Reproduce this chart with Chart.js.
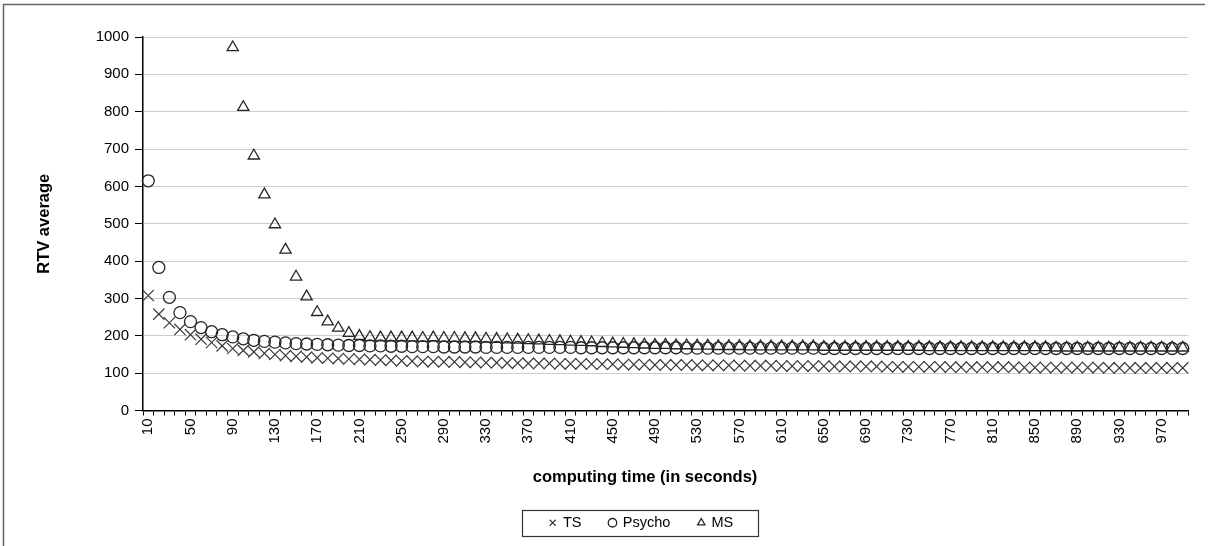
<!DOCTYPE html>
<html><head><meta charset="utf-8">
<script src="https://cdn.jsdelivr.net/npm/chart.js@4/dist/chart.umd.min.js"></script>
<style>html,body{margin:0;padding:0;background:#fff;overflow:hidden}#wrap{position:relative;width:1209px;height:546px}</style>
</head><body><div id="wrap"><canvas id="c" width="1209" height="546"></canvas></div>
<script>
const categories = [10,20,30,40,50,60,70,80,90,100,110,120,130,140,150,160,170,180,190,200,210,220,230,240,250,260,270,280,290,300,310,320,330,340,350,360,370,380,390,400,410,420,430,440,450,460,470,480,490,500,510,520,530,540,550,560,570,580,590,600,610,620,630,640,650,660,670,680,690,700,710,720,730,740,750,760,770,780,790,800,810,820,830,840,850,860,870,880,890,900,910,920,930,940,950,960,970,980,990];
const xTickLabels = [10,50,90,130,170,210,250,290,330,370,410,450,490,530,570,610,650,690,730,770,810,850,890,930,970];
const yTicks = [0,100,200,300,400,500,600,700,800,900,1000];
const tsValues = [308,258,235,217,203,191,182,173,166,161,157,153,150,147,145,143,141,140,139,138,137,136,135,134,133,132,131,131,130,130,129,129,128,128,127,127,126,126,126,125,125,125,124,124,124,123,123,123,122,122,122,122,121,121,121,121,120,120,120,120,119,119,119,119,119,118,118,118,118,118,117,117,117,117,117,117,116,116,116,116,116,116,116,115,115,115,115,115,115,115,115,114,114,114,114,114,114,114,114];
const psychoValues = [615,383,303,262,238,222,211,203,197,192,188,185,183,181,179,178,177,176,175,174,174,173,173,172,172,171,171,171,170,170,170,170,169,169,169,169,169,169,169,169,169,168,168,168,168,168,168,168,168,168,168,167,167,167,167,167,167,167,167,167,167,167,167,167,166,166,166,166,166,166,166,166,166,166,166,166,166,166,166,166,166,166,166,166,166,166,166,166,166,166,166,166,166,166,166,166,166,166,166];
const msValues = [null,null,null,null,null,null,null,null,972,812,682,578,498,430,358,305,263,238,221,207,199,196,195,195,195,195,194,195,194,194,193,193,192,191,190,189,188,187,186,185,184,183,182,180,179,178,177,176,175,175,174,174,173,173,172,172,172,171,171,171,171,171,171,171,170,170,170,170,170,170,170,170,170,170,169,169,169,169,169,169,169,169,169,169,169,169,168,168,168,168,168,168,168,168,168,168,168,168,168];
const seriesNames = ['TS','Psycho','MS'];
const xTitle = 'computing time (in seconds)';
const yTitle = 'RTV average';

const FONT = '"Liberation Sans", Arial, sans-serif';
const legendShift = 30;

const extras = {
  id: 'extras',
  afterLayout(chart) {
    const lg = chart.legend;
    if (lg) { lg.left += legendShift; lg.right += legendShift; }
  },
  afterDraw(chart) {
    const ctx = chart.ctx;
    ctx.save();
    ctx.strokeStyle = '#666';
    ctx.lineWidth = 1.5;
    ctx.beginPath();
    ctx.moveTo(3.5, 546); ctx.lineTo(3.5, 4.5); ctx.lineTo(1205, 4.5);
    ctx.stroke();
    ctx.fillStyle = '#000';
    ctx.font = 'bold 16.5px ' + FONT;
    ctx.textAlign = 'center';
    ctx.textBaseline = 'middle';
    ctx.fillText(xTitle, 645, 477);
    const hb = chart.legend && chart.legend.legendHitBoxes;
    if (hb && hb.length) {
      const l = Math.min(...hb.map(h => h.left));
      const r = Math.max(...hb.map(h => h.left + h.width));
      const t = hb[0].top, b = hb[0].top + hb[0].height;
      ctx.strokeStyle = '#333';
      ctx.lineWidth = 1.2;
      ctx.strokeRect(Math.round(l - 28) + 0.5, Math.round(t - 6) + 0.5, Math.round(r - l + 52), Math.round(b - t + 11));
    }
    ctx.restore();
  }
};

new Chart(document.getElementById('c'), {
  type: 'line',
  data: {
    labels: categories,
    datasets: [
      { label: seriesNames[0], data: tsValues, showLine: false, pointStyle: 'crossRot', pointRadius: 8, borderColor: '#3a3a3a', backgroundColor: 'rgba(0,0,0,0)', borderWidth: 1.2 },
      { label: seriesNames[1], data: psychoValues, showLine: false, pointStyle: 'circle', pointRadius: 6, borderColor: '#262626', backgroundColor: 'rgba(0,0,0,0)', borderWidth: 1.3 },
      { label: seriesNames[2], data: msValues, showLine: false, pointStyle: 'triangle', pointRadius: 6.5, borderColor: '#262626', backgroundColor: 'rgba(0,0,0,0)', borderWidth: 1.3 }
    ]
  },
  options: {
    responsive: false,
    devicePixelRatio: 1,
    animation: false,
    events: [],
    layout: { padding: { left: 35, right: 21, top: 37, bottom: 6 } },
    plugins: {
      tooltip: { enabled: false },
      legend: {
        position: 'bottom',
        labels: { usePointStyle: true, boxWidth: 6, boxHeight: 6, padding: 28, color: '#000', font: { family: FONT, size: 14.5 } }
      }
    },
    scales: {
      x: {
        type: 'category',
        offset: true,
        afterFit: s => { s.height = 77; },
        grid: { offset: true, drawOnChartArea: false, drawTicks: true, tickLength: 5, tickColor: '#000', tickWidth: 1 },
        border: { color: '#000', width: 1.5 },
        ticks: {
          autoSkip: false, minRotation: 90, maxRotation: 90, padding: 3, color: '#000',
          font: { family: FONT, size: 15 },
          callback: (v, i) => xTickLabels.includes(categories[i]) ? String(categories[i]) : ''
        }
      },
      y: {
        min: 0, max: 1000,
        afterFit: s => { s.width = 108; },
        afterBuildTicks: s => { s.ticks = yTicks.map(v => ({ value: v })); },
        grid: { color: '#cccccc', lineWidth: 1, drawTicks: true, tickLength: 8, tickColor: '#000' },
        border: { color: '#000', width: 1.5 },
        ticks: { padding: 6, color: '#000', font: { family: FONT, size: 15 }, callback: v => String(v) },
        title: { display: true, text: yTitle, color: '#000', font: { family: FONT, size: 16.5, weight: 'bold' }, padding: { top: 0, bottom: 0 } }
      }
    }
  },
  plugins: [extras]
});
</script></body></html>
